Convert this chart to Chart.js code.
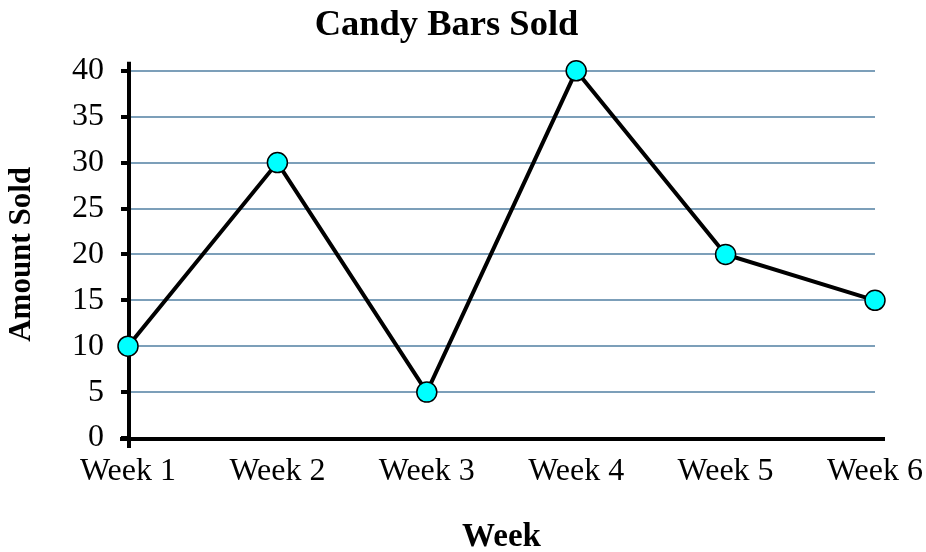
<!DOCTYPE html>
<html>
<head>
<meta charset="utf-8">
<script src="https://cdn.jsdelivr.net/npm/chart.js@4/dist/chart.umd.min.js"></script>
<style>
  html, body { margin: 0; padding: 0; background: #fff; }
  #wrap { width: 926px; height: 552px; }
</style>
</head>
<body>
<div id="wrap"><canvas id="chart" width="926" height="552"></canvas></div>
<script>
'use strict';

// ── data ──
const weeks = ['Week 1', 'Week 2', 'Week 3', 'Week 4', 'Week 5', 'Week 6'];
const amountSold = [10, 30, 5, 40, 20, 15];
const yTicks = [0, 5, 10, 15, 20, 25, 30, 35, 40];

const SERIF = "'Liberation Serif', 'Times New Roman', serif";
const GRID = '#7c9fb9';

// axis lines with the small overhangs seen in the original
const axisLines = {
  id: 'axisLines',
  beforeDatasetsDraw(chart) {
    const { ctx, chartArea: a } = chart;
    ctx.save();
    ctx.strokeStyle = '#000';
    ctx.lineWidth = 4;
    ctx.beginPath();
    ctx.moveTo(a.left + 1, a.top - 9);
    ctx.lineTo(a.left + 1, a.bottom + 10);
    ctx.moveTo(a.left - 8, a.bottom + 1);
    ctx.lineTo(a.right + 10, a.bottom + 1);
    ctx.stroke();
    ctx.restore();
  }
};

Chart.defaults.font.family = SERIF;
Chart.defaults.color = '#000';

const chart = new Chart(document.getElementById('chart'), {
  type: 'line',
  data: {
    labels: weeks,
    datasets: [{
      label: 'Amount Sold',
      data: amountSold,
      clip: false,
      borderColor: '#000',
      borderWidth: 4,
      tension: 0,
      fill: false,
      pointRadius: 10,
      pointBackgroundColor: '#00ffff',
      pointBorderColor: '#000',
      pointBorderWidth: 1.5,
    }]
  },
  options: {
    responsive: false,
    animation: false,
    layout: { padding: { left: 0, right: 33, top: 0, bottom: 0 } },
    plugins: {
      legend: { display: false },
      tooltip: { enabled: false },
      title: {
        display: true,
        text: 'Candy Bars Sold',
        font: { size: 36.5, weight: 'bold', family: SERIF },
        color: '#000',
        padding: { top: 4, bottom: 23 }
      }
    },
    scales: {
      x: {
        offset: false,
        // fixed height; right overhang sized so the last category sits at x≈875
        afterFit: (s) => { s.height = 114; s.paddingLeft = 0; s.paddingRight = 51; },
        grid: { display: false, drawTicks: false },
        border: { display: false },
        ticks: { font: { size: 32 }, padding: 14, maxRotation: 0, autoSkip: false },
        title: {
          display: true, text: 'Week',
          font: { size: 33, weight: 'bold' },
          padding: { top: 0, bottom: -5 }
        }
      },
      y: {
        min: 0, max: 40,
        afterFit: (s) => { s.width = 128; },
        afterBuildTicks: (s) => { s.ticks = yTicks.map(v => ({ value: v })); },
        grid: {
          color: GRID, lineWidth: 2,
          drawTicks: true, tickLength: 7, tickColor: '#000', tickWidth: 4
        },
        border: { display: false },
        ticks: { font: { size: 32 }, padding: 17 },
        title: {
          display: true, text: 'Amount Sold',
          font: { size: 31, weight: 'bold' },
          padding: { top: 3, bottom: 0 }
        }
      }
    }
  },
  plugins: [axisLines]
});
</script>
</body>
</html>
